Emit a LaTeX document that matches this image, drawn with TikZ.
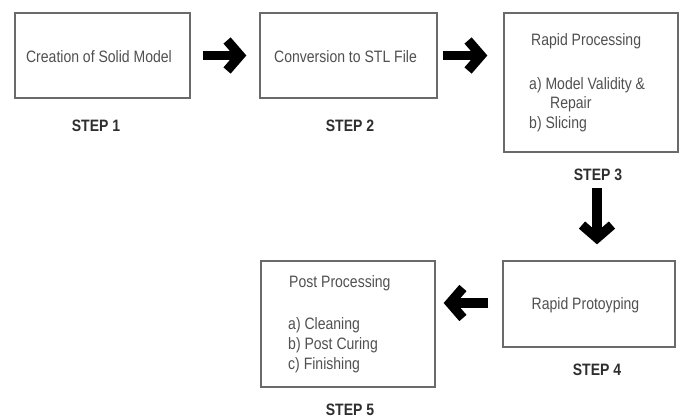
\documentclass[tikz,border=0pt]{standalone}
\usepackage{fontspec}
\setmainfont{Liberation Sans}[FakeStretch=0.85]
\usetikzlibrary{arrows.meta}
\definecolor{txt}{HTML}{505050}
\definecolor{stp}{HTML}{2E2E2E}
\definecolor{frame}{HTML}{6A6A6A}
\tikzset{
  box/.style={draw=frame, line width=1.3pt, inner sep=0pt},
  body/.style={text=txt, font=\fontsize{16.5}{19.5}\selectfont, inner sep=0pt},
  steplbl/.style={text=stp, font=\fontsize{16.5}{19}\selectfont\bfseries, inner sep=0pt},
  bigarrow/.style={line width=9.5pt, black,
    -{Straight Barb[length=13pt,width=30pt,line join=miter,line cap=butt]}},
}
\begin{document}
\begin{tikzpicture}[x=1pt,y=-1pt]
\useasboundingbox (0,0) rectangle (683,419);
% boxes
\node[box, minimum width=175pt, minimum height=85pt] (b1) at (102.5,55.5) {};
\node[box, minimum width=177pt, minimum height=85pt] (b2) at (348.5,55.5) {};
\node[box, minimum width=174pt, minimum height=139pt] (b3) at (591,82.5) {};
\node[box, minimum width=172pt, minimum height=86pt] (b4) at (589,304) {};
\node[box, minimum width=174pt, minimum height=126pt] (b5) at (348,324) {};
% texts
\node[body] (t1) at (99,57) {Creation of Solid Model};
\node[body] (t2) at (345.5,57) {Conversion to STL File};
\node[body, anchor=north west, align=left] (t3) at (529,33) {\hspace*{2pt}Rapid Processing\\[24.5pt]a) Model Validity \&\\\hspace*{21pt}Repair\\b) Slicing};
\node[body] (t4) at (585.5,305) {Rapid Protoyping};
\node[body, anchor=north west, align=left, font=\fontsize{16.5}{20}\selectfont] (t5) at (288,275) {\hspace*{1pt}Post Processing\\[22pt]a) Cleaning\\b) Post Curing\\c) Finishing};
% step labels
\node[steplbl] (s1) at (96,126) {STEP 1};
\node[steplbl] (s2) at (350,126) {STEP 2};
\node[steplbl] (s3) at (598,175) {STEP 3};
\node[steplbl] (s4) at (597,370) {STEP 4};
\node[steplbl] (s5) at (350,410) {STEP 5};
% arrows
\draw[bigarrow, shorten <=12pt, shorten >=13pt] (b1.east |- 0,55.5) -- (b2.west |- 0,55.5);
\draw[bigarrow, shorten <=5pt, shorten >=16pt] (b2.east |- 0,55.5) -- (b3.west |- 0,55.5);
\draw[bigarrow, shorten <=7pt, shorten >=16pt] (s3.south -| 597,0) -- (b4.north -| 597,0);
\draw[bigarrow, shorten <=14pt, shorten >=8pt] (b4.west |- 0,303) -- (b5.east |- 0,303);
\end{tikzpicture}
\end{document}
